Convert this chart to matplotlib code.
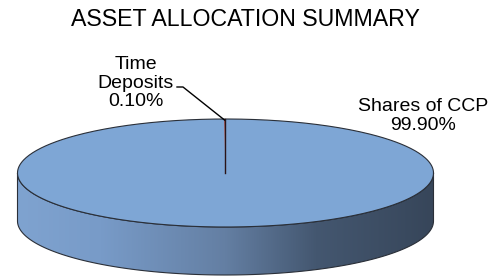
import numpy as np
import matplotlib
matplotlib.use("Agg")
import matplotlib.pyplot as plt
from matplotlib.transforms import Affine2D
from matplotlib.patches import Polygon
from matplotlib.colors import LinearSegmentedColormap

# ---- data ----
categories = ["Shares of CCP", "Time Deposits"]
values = [99.9, 0.1]
pct_labels = ["99.90%", "0.10%"]
title = "ASSET ALLOCATION SUMMARY"

plt.rcParams['font.family'] = ['Liberation Sans', 'DejaVu Sans']

fig = plt.figure(figsize=(4.99, 2.76), dpi=100)
ax = fig.add_axes([0, 0, 1, 1])

# ellipse geometry (pixels)
cx, cy, a, b, depth = 225.5, 173.0, 208.0, 54.0, 48.0

wedges, _ = ax.pie(values, startangle=90, counterclock=False, radius=1,
                   center=(0, 0), colors=["#7EA6D5", "#8B2A2A"],
                   wedgeprops=dict(linewidth=0))
tr = Affine2D().scale(a, -b).translate(cx, cy) + ax.transData
for w in wedges:
    w.set_transform(tr)
    w.set_zorder(3)

ax.set_aspect('auto')
ax.set_xlim(0, 499)
ax.set_ylim(276, 0)
ax.axis('off')

# side of the cylinder
t = np.linspace(np.pi, 2 * np.pi, 200)
xs = cx + a * np.cos(t)
ys = cy - b * np.sin(t)
side = np.concatenate([np.column_stack([xs, ys]),
                       np.column_stack([xs[::-1], ys[::-1] + depth])])
poly = Polygon(side, closed=True, facecolor='none', edgecolor='#2a2f38', lw=0.8, zorder=2)
ax.add_patch(poly)
cmap = LinearSegmentedColormap.from_list("side", [
    (0.0, (127/255, 163/255, 208/255)),
    (0.2, (120/255, 155/255, 200/255)),
    (0.5, (100/255, 127/255, 163/255)),
    (0.72, (68/255, 87/255, 112/255)),
    (1.0, (55/255, 70/255, 90/255)),
])
grad = np.linspace(0, 1, 256).reshape(1, -1)
im = ax.imshow(grad, cmap=cmap, extent=(cx - a, cx + a, cy + b + depth, cy - b),
               aspect='auto', zorder=1)
im.set_clip_path(poly)
ax.set_xlim(0, 499)
ax.set_ylim(276, 0)

# top outline
tt = np.linspace(0, 2 * np.pi, 400)
ax.plot(cx + a * np.cos(tt), cy - b * np.sin(tt), color='#2a2f38', lw=0.8, zorder=4)
# slice edge line
ax.plot([cx, cx], [cy, cy - b], color='#2a1418', lw=1.0, zorder=4)

# labels
ax.text(245, 19.5, title, ha='center', va='center', fontsize=16.7, color='black')
ax.text(136, 83, "Time\n" + categories[1].split()[1] + "\n" + pct_labels[1],
        ha='center', va='center', fontsize=14, linespacing=1.12)
ax.text(423, 116, categories[0] + "\n" + pct_labels[0], ha='center', va='center',
        fontsize=14, linespacing=1.12)
ax.plot([177, 183, cx - 1, cx - 1], [87, 87, cy - b + 1, cy - b + 1], color='black', lw=1.0, zorder=5)

fig.savefig("out.png", dpi=100)
